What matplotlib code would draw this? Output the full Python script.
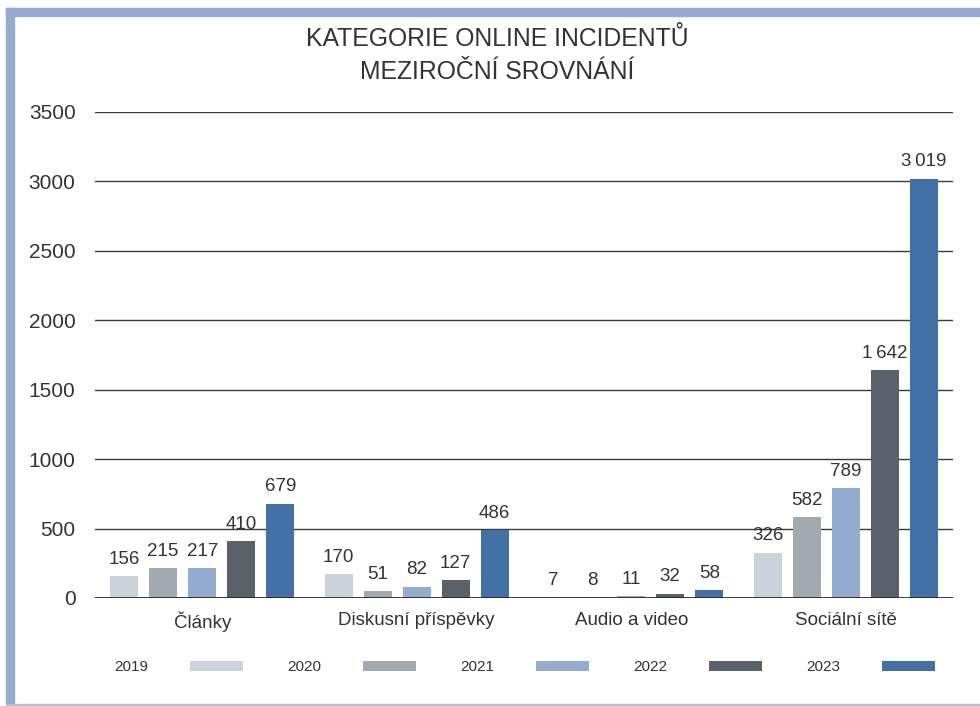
import numpy as np
import matplotlib
matplotlib.use("Agg")
import matplotlib.pyplot as plt
from matplotlib.patches import Rectangle

plt.rcParams['font.family'] = ['Liberation Sans', 'DejaVu Sans']

categories = ['Články', 'Diskusní příspěvky', 'Audio a video', 'Sociální sítě']
years = ['2019', '2020', '2021', '2022', '2023']
v2019 = [156, 170, 7, 326]
v2020 = [215, 51, 8, 582]
v2021 = [217, 82, 11, 789]
v2022 = [410, 127, 32, 1642]
v2023 = [679, 486, 58, 3019]
series = [v2019, v2020, v2021, v2022, v2023]
colors = ['#cbd2da', '#a3a9b1', '#93acd0', '#5a616b', '#4370a6']
yticks = [0, 500, 1000, 1500, 2000, 2500, 3000, 3500]

txt = '#333333'
fig = plt.figure(figsize=(9.8, 7.06), dpi=100)
ax = fig.add_axes([0.0969, 0.153, 0.8755, 0.6884])

x = np.arange(len(categories))
step = 0.182
width = 0.13
for i, (vals, col, yr) in enumerate(zip(series, colors, years)):
    pos = x + (i - 2) * step
    bars = ax.bar(pos, vals, width, color=col, label=yr, zorder=3)
    labels = [f'{v:,}'.replace(',', '\u2009') for v in vals]
    ax.bar_label(bars, labels=labels, padding=6, fontsize=13.5, color=txt)

ax.set_xlim(-0.5, 3.5)
ax.set_ylim(0, 3500)
ax.set_yticks(yticks)
ax.set_yticklabels([str(t) for t in yticks], fontsize=15, color=txt)
ax.yaxis.grid(True, color='#3a3a3a', linewidth=1)
ax.set_axisbelow(True)
ax.set_xticks(x)
ax.set_xticklabels(categories, fontsize=13.5, color=txt)
ax.tick_params(length=0, axis='y', pad=14)
ax.tick_params(length=0, axis='x', pad=10)
for s in ax.spines.values():
    s.set_visible(False)
ax.axhline(0, color='#222222', linewidth=1.2, zorder=4)

fig.text(0.507, 0.945, 'KATEGORIE ONLINE INCIDENTŮ', fontsize=17.8, color=txt,
         ha='center', va='center')
fig.text(0.507, 0.898, 'MEZIROČNÍ SROVNÁNÍ', fontsize=17.8, color=txt,
         ha='center', va='center')

ax.legend(loc='upper center', bbox_to_anchor=(0.501, -0.1), ncol=5, frameon=False,
          markerfirst=False, fontsize=11, handlelength=3.5, handleheight=0.7,
          handletextpad=2.7, columnspacing=2.9, labelcolor=txt)

# frame
border = '#97aad0'
fig.patches.append(Rectangle((6 / 980, 2 / 706), 8 / 980, 696 / 706,
                             transform=fig.transFigure, color=border, zorder=0))
fig.patches.append(Rectangle((6 / 980, 690 / 706), 974 / 980, 8 / 706,
                             transform=fig.transFigure, color=border, zorder=0))
fig.patches.append(Rectangle((6 / 980, 1 / 706), 974 / 980, 1.5 / 706,
                             transform=fig.transFigure, color='#b5c0d3', zorder=0))

fig.savefig('out.png', dpi=100)
